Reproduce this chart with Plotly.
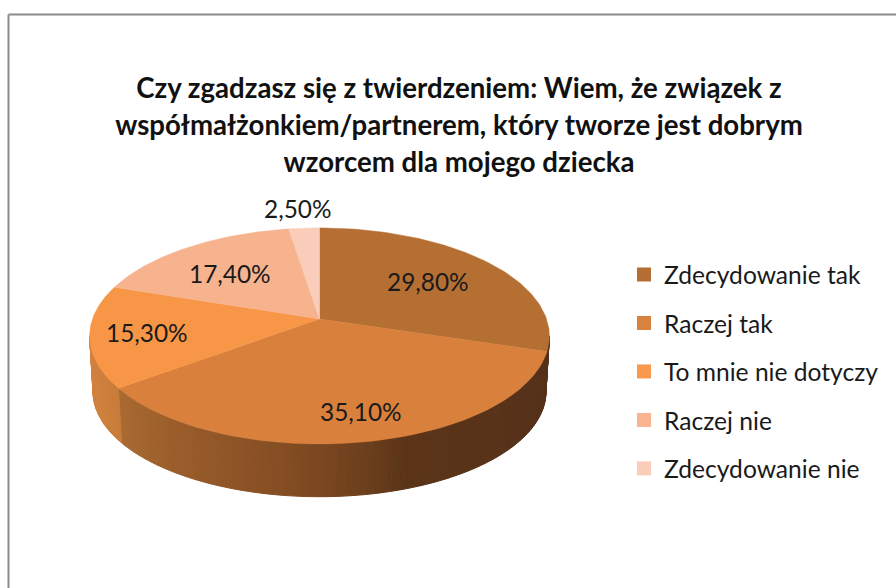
import numpy as np
import plotly.graph_objects as go

# --- data ---
categories = ["Zdecydowanie tak", "Raczej tak", "To mnie nie dotyczy", "Raczej nie", "Zdecydowanie nie"]
values = [29.8, 35.1, 15.3, 17.4, 2.5]
title_lines = [
    "Czy zgadzasz się z twierdzeniem: Wiem, że związek z",
    "współmałżonkiem/partnerem, który tworze jest dobrym",
    "wzorcem dla mojego dziecka",
]

# --- style ---
face_colors = ["#b56f33", "#d8803c", "#f79646", "#f6b38e", "#f9cdb9"]
legend_colors = ["#b46d32", "#d9813e", "#f8994b", "#fab48f", "#fcccbb"]
FONT = "Lato"
CX, CY, HALF_W, RY, SKEW_Y, PERSP = 319.5, 336.0, 227.0, 108.0, -17.0, -0.157
DEPTH_CY, W_SCALE, H_SCALE = 392.0, 0.985, 0.97
label_r = [0.62, 0.80, 0.77, 0.62, 1.25]
label_shift_x = [1, 7, 3, -5, -3]
label_shift_y = [-1, -2, 0, 1, -1]


def project(theta_deg, r=1.0):
    th = np.radians(theta_deg)
    t = -np.cos(th) * r
    d = 1 + PERSP * t
    return HALF_W * r * np.sin(th) / d, (RY * t + SKEW_Y) / d


def hex_rgb(h):
    return np.array([int(h[i:i + 2], 16) for i in (1, 3, 5)], float)


wall_ramps = {
    0: ([540, 550], ["#56311a", "#56311a"]),
    1: ([120, 170, 300, 370, 405, 545], ["#a96a32", "#9c5e2b", "#814b22", "#6b3e1c", "#5c3518", "#56311a"]),
    2: ([90, 120], ["#d28240", "#c87c38"]),
}


def wall_color(idx, x):
    xs, cs = wall_ramps[idx]
    rgb = np.array([hex_rgb(c) for c in cs])
    return "rgb(%d,%d,%d)" % tuple(np.interp(x, xs, rgb[:, k]) for k in range(3))


edges = np.concatenate([[0], np.cumsum(values)]) / np.sum(values) * 360.0
fig = go.Figure()

# side wall of the visible front half
wall_from, wall_to = 99.0, 261.0
for idx in range(3):
    a0, a1 = max(edges[idx], wall_from), min(edges[idx + 1], wall_to)
    n = max(int(a1 - a0), 1)
    grid = np.linspace(a0, a1, n + 1)
    for g0, g1 in zip(grid[:-1], grid[1:]):
        arc = np.linspace(g0, g1, 3)
        px, py = project(arc)
        top_x, top_y = CX + px, CY + py
        bot_x, bot_y = CX + px * W_SCALE, DEPTH_CY + py * H_SCALE
        c = wall_color(idx, float(top_x.mean()))
        fig.add_trace(go.Scatter(
            x=np.concatenate([top_x, bot_x[::-1], top_x[:1]]),
            y=np.concatenate([top_y, bot_y[::-1], top_y[:1]]),
            mode="lines", fill="toself", fillcolor=c, line=dict(color=c, width=1),
            showlegend=False, hoverinfo="skip",
        ))

# top faces
for i, cat in enumerate(categories):
    arc = np.linspace(edges[i], edges[i + 1], 80)
    px, py = project(arc)
    ax, ay = project(0.0, 0.0)
    fig.add_trace(go.Scatter(
        x=np.concatenate([[CX + ax], CX + px, [CX + ax]]),
        y=np.concatenate([[CY + ay], CY + py, [CY + ay]]),
        mode="lines", fill="toself", fillcolor=face_colors[i],
        line=dict(color=face_colors[i], width=0.5),
        showlegend=False, hoverinfo="skip", name=cat,
    ))

# legend entries
for i, cat in enumerate(categories):
    fig.add_trace(go.Scatter(
        x=[None], y=[None], mode="markers", name=cat, legendgroup=cat,
        marker=dict(symbol="square", size=14, color=legend_colors[i]),
    ))

# data labels
annotations = []
for i, v in enumerate(values):
    mid = (edges[i] + edges[i + 1]) / 2
    lx, ly = project(mid, label_r[i])
    annotations.append(dict(
        x=CX + lx + label_shift_x[i], y=CY + ly + label_shift_y[i], xref="x", yref="y", showarrow=False,
        text=f"{v:.2f}".replace(".", ",") + "%",
        font=dict(family=FONT, size=24.4, color="#1a1a1a"),
    ))

title_html = "<br>".join(f'<span style="font-size:27.6px">{t}</span>' for t in title_lines)

fig.update_layout(
    width=896, height=588, margin=dict(l=0, r=0, t=0, b=0),
    paper_bgcolor="white", plot_bgcolor="white",
    xaxis=dict(range=[0, 896], visible=False, fixedrange=True),
    yaxis=dict(range=[588, 0], visible=False, fixedrange=True),
    title=dict(text=title_html, x=459 / 896, xanchor="center", y=1 - 98 / 588, yanchor="top",
               font=dict(family=FONT, size=28.5, color="#111111", weight="bold")),
    legend=dict(x=624 / 896, y=1 - 252 / 588, xanchor="left", yanchor="top",
                tracegroupgap=13.5, bgcolor="rgba(0,0,0,0)",
                font=dict(family=FONT, size=24.6, color="#1a1a1a")),
    annotations=annotations,
    shapes=[
        dict(type="line", xref="x", yref="y", x0=8.5, x1=896, y0=14.5, y1=14.5,
             line=dict(color="#8c8c8c", width=2)),
        dict(type="line", xref="x", yref="y", x0=8.5, x1=8.5, y0=14.5, y1=588,
             line=dict(color="#8c8c8c", width=2)),
    ],
)

fig.write_html("out.html", post_script="document.body.style.margin='0';",
               config={"displayModeBar": False})
